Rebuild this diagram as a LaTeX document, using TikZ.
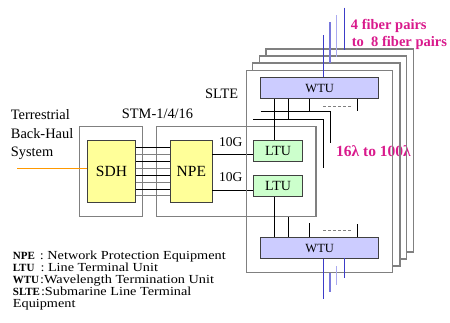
\documentclass[tikz,border=0pt]{standalone}
\usepackage{fontspec}
\setmainfont{Liberation Serif}
\newfontfamily\legendfont[FakeStretch=1.16]{Liberation Serif}
\usepackage{xcolor}
\definecolor{cFrame}{HTML}{808080}
\definecolor{cEdge}{HTML}{404040}
\definecolor{cSDH}{HTML}{FFFF99}
\definecolor{cLTU}{HTML}{CCFFCC}
\definecolor{cWTU}{HTML}{CCCCFF}
\definecolor{cFeed}{HTML}{FF9900}
\definecolor{cNote}{HTML}{D91A8C}
\definecolor{cFiber}{HTML}{3C3CC8}
\definecolor{cFiberMid}{HTML}{7878DC}
\definecolor{cFiberLight}{HTML}{AAAAF0}
\usepackage{tikz}
\usetikzlibrary{positioning,calc}
\tikzset{
  node-rack/.style={draw=cFrame,line width=1.3pt,inner sep=0pt,
    minimum width=63.4pt,minimum height=90pt},
  node-unit/.style={draw=cEdge,line width=0.9pt,inner sep=0pt,align=center},
  node-sdh/.style={node-unit,fill=cSDH,minimum height=62.3pt,
    font=\fontsize{15.5}{18}\selectfont},
  node-ltu/.style={node-unit,fill=cLTU,minimum width=49.4pt,minimum height=21pt,
    font=\fontsize{14}{16}\selectfont},
  node-wtu/.style={node-unit,fill=cWTU,minimum width=118pt,minimum height=21.4pt,
    font=\fontsize{12.5}{14}\selectfont},
  node-slte/.style={draw=cFrame,line width=1.3pt,inner sep=0pt,
    minimum width=146pt,minimum height=201.6pt},
  % texte libre : etiquettes, notes en magenta, legende
  node-label/.style={inner sep=0pt,anchor=base west,font=\fontsize{14.4}{18.5}\selectfont},
  node-small/.style={inner sep=0pt,anchor=base west,font=\fontsize{13.5}{15}\selectfont},
  node-note/.style={inner sep=0pt,anchor=base west,text=cNote,
    font=\fontsize{14.5}{16}\selectfont\bfseries},
  node-legend/.style={inner sep=0pt,anchor=base west,font=\fontsize{12.3}{12}\selectfont},
  slte-frame/.style={draw=cFrame,line width=1.3pt},
  line-link/.style={draw=black,line width=0.8pt},
  line-feed/.style={draw=cFeed,line width=0.9pt},
  line-dash/.style={draw=cFrame,line width=0.8pt,dash pattern=on 2.5pt off 2.5pt},
  fiber/.style={draw=cFiber,line width=1pt},
  fiber-mid/.style={draw=cFiberMid,line width=1.2pt},
  fiber-light/.style={draw=cFiberLight,line width=1.4pt},
}
\newcommand{\legname}[1]{{\fontsize{11}{12}\selectfont\bfseries #1}}

\begin{document}
\begin{tikzpicture}[x=1pt,y=-1pt]
  \useasboundingbox (0,0) rectangle (450,322);
  % terrestrial side
  \node[node-label,anchor=north west,align=left] (terr) at (10.7,109.4)
    {Terrestrial\\Back-Haul\\System};
  \node[node-label] (stm) at (121.7,118.3) {STM-1/4/16};
  \node[node-rack] (sdh-rack) at (111,171.7) {};
  \node[node-sdh,minimum width=48.4pt] (sdh) at (111.5,171.2) {SDH};
  \node[node-rack,minimum width=159.3pt] (npe-rack) at (236.35,171.7) {};
  \node[node-sdh,minimum width=41.3pt] (npe) at (191.35,171.2) {NPE};
  \node[node-ltu] (ltu-a) at (278,150.5) {LTU};
  \node[node-ltu,below=14pt of ltu-a] (ltu-b) {LTU};
  \node[node-small] (g-a) at (219,146.7) {10G};
  \node[node-small] (g-b) at (219,181) {10G};
  \coordinate (feed) at (17.3,168.3);
  \draw[line-feed] (feed) -- (feed -| sdh.west);
  \foreach \yy/\cc in {147.7/black,154.6/cFrame,161.4/black,168.3/cFrame,
      175.1/black,182/cFrame,188.9/black,195.7/cFrame}
    \draw[line-link,draw=\cc] (sdh.east |- 0,\yy) -- (npe.west |- 0,\yy);
  \draw[line-link] ([yshift=-4pt]ltu-a.west) -- ([yshift=-4pt]ltu-a.west -| npe.east);
  \draw[line-link] ([yshift=-4pt]ltu-b.west) -- ([yshift=-4pt]ltu-b.west -| npe.east);

  % SLTE stack
  \node[node-label] (slte-lbl) at (205,98.3) {SLTE};
  \node[node-note] (pairs-a) at (350.7,29.3) {4 fiber pairs};
  \node[node-note] (pairs-b) at (351.7,46.7) {to\ \ 8 fiber pairs};
  \node[node-note,font=\fontsize{15.5}{17}\selectfont\bfseries] (lambda) at (336,156)
    {16λ to 100λ};
  \node[node-slte] (slte) at (319.7,171.5) {};
  \foreach \k in {1,2,3}
    \draw[slte-frame] ($(slte.north west)+(\k*6.67,-\k*7+7)$) -- ++(0,-7)
      -| ($(slte.south east)+(\k*6.67,-\k*7)$) -- ++(-6.67,0);
  \node[node-wtu] (wtu-top) at (319.7,88) {WTU};
  \node[node-wtu] (wtu-bot) at (319.7,248) {WTU};

  % WTU <-> LTU wiring
  \coordinate (ring-a) at (253.3,119.3);
  \coordinate (ring-b) at (260.7,111.7);
  \draw[line-link] (ring-a) -| (323.3,168.3);
  \draw[line-link] (ring-b) -| (330,143.3);
  \draw[line-link] (wtu-top.south -| 274,0) -- (ltu-a.north -| 274,0);
  \draw[line-link] (wtu-top.south -| 288.3,0) -- (ring-a -| 288.3,0);
  \draw[line-link] (wtu-top.south -| 309.3,0) -- (ring-b -| 309.3,0);
  \draw[line-link] (wtu-top.south -| 357.3,0) -- ++(0,12.3);
  \draw[line-dash] (323,106) -- (350.7,106);
  \draw[line-link] (ltu-b.south -| 274,0) -- (wtu-bot.north -| 274,0);
  \draw[line-link] (npe-rack.south -| 288.3,0) -- (wtu-bot.north -| 288.3,0);
  \draw[line-link] (309.3,223.3) -- (wtu-bot.north -| 309.3,0);
  \draw[line-link] (357.3,224) -- (wtu-bot.north -| 357.3,0);
  \draw[line-dash] (323,230.3) -- (350.7,230.3);

  % fibres
  \draw[fiber] (323.3,35) -- (wtu-top.north -| 323.3,0);
  \draw[fiber-mid] (330,22.3) -- (330,63.3);
  \draw[fiber-light] (336.7,15) -- (336.7,56.7);
  \draw[fiber] (344,7.7) -- (344,50);
  \draw[fiber] (wtu-bot.south -| 323.3,0) -- (323.3,299.3);
  \draw[fiber-mid] (330,272.7) -- (330,291.7);
  \draw[fiber-light] (336.7,266) -- (336.7,285);
  \draw[fiber] (344,258.3) -- (344,278.3);

  % legend
  \node[node-legend] (leg-npe) at (12.7,259)
    {\legname{NPE}\hspace{5pt}{\legendfont: Network Protection Equipment}};
  \node[node-legend] (leg-ltu) at (12.7,271.3)
    {\legname{LTU}\hspace{6pt}{\legendfont: Line Terminal Unit}};
  \node[node-legend] (leg-wtu) at (12.7,283.3)
    {\legname{WTU}\hspace{1pt}{\legendfont:Wavelength Termination Unit}};
  \node[node-legend] (leg-slte) at (12.7,295.3)
    {\legname{SLTE}\hspace{1pt}{\legendfont:Submarine Line Terminal}};
  \node[node-legend] (leg-eq) at (12.7,307.3) {{\legendfont Equipment}};
\end{tikzpicture}
\end{document}
